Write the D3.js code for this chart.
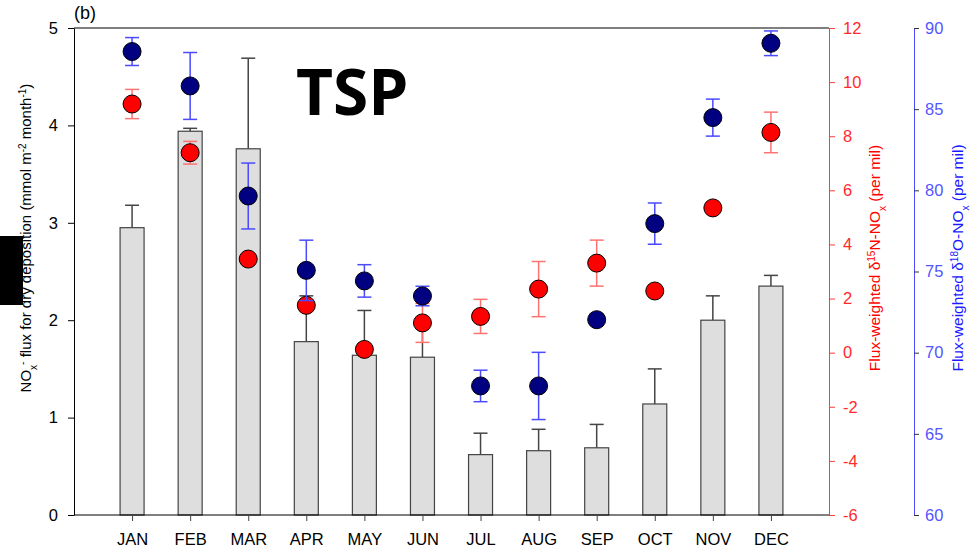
<!DOCTYPE html>
<html lang="en">
<head>
    <meta charset="UTF-8">
    <title>TSP dry deposition NOx</title>
    <script src="https://d3js.org/d3.v7.min.js"></script>
    <style>
        body { margin: 0; background: #fff; }
        svg { display: block; }
        .lbl { font-family: 'Liberation Sans', Arial, sans-serif; }
    </style>
</head>
<body>
    <svg width="978" height="547"></svg>

    <script>
        // months
        const months = ["JAN", "FEB", "MAR", "APR", "MAY", "JUN", "JUL", "AUG", "SEP", "OCT", "NOV", "DEC"];

        // NOx- flux for dry deposition (bars) and upper error
        const fluxValues = [2.95, 3.94, 3.76, 1.78, 1.64, 1.62, 0.62, 0.66, 0.69, 1.14, 2.00, 2.35];
        const fluxErr = [0.23, 0.03, 0.93, 0.47, 0.46, 0.38, 0.22, 0.22, 0.24, 0.36, 0.25, 0.11];

        // flux-weighted d15N (red)
        const d15NValues = [9.19, 7.39, 3.46, 1.75, 0.12, 1.10, 1.34, 2.35, 3.31, 2.28, 5.35, 8.14];
        const d15NErr = [0.54, 0.42, 0, 0.2, 0.15, 0.72, 0.63, 1.02, 0.85, 0, 0, 0.75];

        // flux-weighted d18O (navy)
        const d18OValues = [88.55, 86.43, 79.65, 75.07, 74.42, 73.49, 67.95, 67.95, 72.03, 77.95, 84.48, 89.06];
        const d18OErr = [0.86, 2.06, 2.03, 1.86, 1.0, 0.6, 0.97, 2.07, 0, 1.27, 1.14, 0.76];

        const leftTicks = [0, 1, 2, 3, 4, 5];
        const redTicks = [-6, -4, -2, 0, 2, 4, 6, 8, 10, 12];
        const blueTicks = [60, 65, 70, 75, 80, 85, 90];

        const svg = d3.select("svg");
        const plotL = 74, plotR = 829, plotT = 28, plotB = 515, blueX = 914;

        const x = d3.scalePoint().domain(months).range([plotL, plotR]).padding(1);
        const yFlux = d3.scaleLinear().domain([0, 5]).range([plotB, plotT]);
        const yN = d3.scaleLinear().domain([-6, 12]).range([plotB, plotT]);
        const yO = d3.scaleLinear().domain([60, 90]).range([plotB, plotT]);

        const barW = 24, cap = 14, r = 9;
        const plain = d => String(d);

        // bars
        const bars = months.map((m, i) => ({m: m, v: fluxValues[i], e: fluxErr[i]}));
        svg.append("g").selectAll("line").data(bars).enter().append("line")
            .attr("x1", d => x(d.m)).attr("x2", d => x(d.m))
            .attr("y1", d => yFlux(d.v)).attr("y2", d => yFlux(d.v + d.e))
            .attr("stroke", "#444").attr("stroke-width", 1.5);
        svg.append("g").selectAll("line").data(bars).enter().append("line")
            .attr("x1", d => x(d.m) - cap / 2).attr("x2", d => x(d.m) + cap / 2)
            .attr("y1", d => yFlux(d.v + d.e)).attr("y2", d => yFlux(d.v + d.e))
            .attr("stroke", "#444").attr("stroke-width", 1.5);
        svg.append("g").selectAll("rect").data(bars).enter().append("rect")
            .attr("x", d => x(d.m) - barW / 2)
            .attr("y", d => yFlux(d.v))
            .attr("width", barW)
            .attr("height", d => yFlux(0) - yFlux(d.v))
            .attr("fill", "#dedede")
            .attr("stroke", "#444")
            .attr("stroke-width", 1.2);

        function drawPoints(vals, errs, y, fill, errColor) {
            const pts = months.map((m, i) => ({m: m, v: vals[i], e: errs[i]}));
            const g = svg.append("g");
            const withErr = pts.filter(d => d.e > 0);
            g.selectAll(".eb").data(withErr).enter().append("line")
                .attr("x1", d => x(d.m)).attr("x2", d => x(d.m))
                .attr("y1", d => y(d.v - d.e)).attr("y2", d => y(d.v + d.e))
                .attr("stroke", errColor).attr("stroke-width", 1.5);
            [-1, 1].forEach(s => {
                g.selectAll(".cap" + s).data(withErr).enter().append("line")
                    .attr("x1", d => x(d.m) - cap / 2).attr("x2", d => x(d.m) + cap / 2)
                    .attr("y1", d => y(d.v + s * d.e)).attr("y2", d => y(d.v + s * d.e))
                    .attr("stroke", errColor).attr("stroke-width", 1.5);
            });
            g.selectAll("circle").data(pts).enter().append("circle")
                .attr("cx", d => x(d.m)).attr("cy", d => y(d.v)).attr("r", r)
                .attr("fill", fill).attr("stroke", "#000").attr("stroke-width", 1);
        }
        drawPoints(d15NValues, d15NErr, yN, "#ff0000", "#ff7272");
        drawPoints(d18OValues, d18OErr, yO, "#000080", "#4a4aff");

        // frame top
        svg.append("line").attr("x1", plotL).attr("x2", plotR).attr("y1", plotT).attr("y2", plotT)
            .attr("stroke", "#000").attr("stroke-width", 1.2);

        function tickFont(g) {
            g.selectAll(".tick text")
                .style("font-family", "'Liberation Sans', Arial, sans-serif")
                .style("font-size", "16.5px");
        }

        // left axis
        const gL = svg.append("g").attr("transform", "translate(" + plotL + ",0)")
            .call(d3.axisLeft(yFlux).tickValues(leftTicks).tickFormat(plain).tickSize(6).tickPadding(10).tickSizeOuter(0));
        gL.selectAll("path, line").attr("stroke", "#000");
        tickFont(gL);

        // bottom axis
        const gB = svg.append("g").attr("transform", "translate(0," + plotB + ")")
            .call(d3.axisBottom(x).tickSize(6).tickPadding(12).tickSizeOuter(0));
        gB.select(".domain").attr("d", "M" + plotL + ",0H" + plotR).attr("stroke", "#000").attr("stroke-width", 1.2);
        gB.selectAll(".tick line").attr("stroke", "#444");
        tickFont(gB);

        // red right axis
        const gR = svg.append("g").attr("transform", "translate(" + plotR + ",0)")
            .call(d3.axisRight(yN).tickValues(redTicks).tickFormat(plain).tickSize(6).tickPadding(8).tickSizeOuter(0));
        gR.selectAll("path, line").attr("stroke", "#ff3b3b");
        gR.selectAll("text").attr("fill", "#ff2a2a");
        tickFont(gR);

        // blue right axis
        const gO = svg.append("g").attr("transform", "translate(" + blueX + ",0)")
            .call(d3.axisRight(yO).tickValues(blueTicks).tickFormat(plain).tickSize(5).tickPadding(6).tickSizeOuter(0));
        gO.select(".domain").attr("stroke", "#4a4aff");
        gO.selectAll(".tick line").attr("stroke", "#333");
        gO.selectAll("text").attr("fill", "#5555ff");
        tickFont(gO);

        // left title
        const tL = svg.append("text").attr("class", "lbl")
            .attr("transform", "translate(31,238) rotate(-90)")
            .attr("text-anchor", "middle").attr("fill", "#000").style("font-size", "15px");
        tL.append("tspan").text("NO");
        tL.append("tspan").attr("baseline-shift", "sub").style("font-size", "10px").text("x");
        tL.append("tspan").attr("baseline-shift", "super").style("font-size", "10px").text("-");
        tL.append("tspan").text(" flux for dry deposition (mmol m");
        tL.append("tspan").attr("baseline-shift", "super").style("font-size", "10px").text("-2");
        tL.append("tspan").text(" month");
        tL.append("tspan").attr("baseline-shift", "super").style("font-size", "10px").text("-1");
        tL.append("tspan").text(")");

        function isoTitle(xPos, sup, el, color) {
            const t = svg.append("text").attr("class", "lbl")
                .attr("transform", "translate(" + xPos + ",258) rotate(-90)")
                .attr("text-anchor", "middle").attr("fill", color).style("font-size", "15.5px");
            t.append("tspan").text("Flux-weighted \u03b4");
            t.append("tspan").attr("baseline-shift", "super").style("font-size", "10px").text(sup);
            t.append("tspan").text(el + "-NO");
            t.append("tspan").attr("baseline-shift", "sub").style("font-size", "10px").text("x");
            t.append("tspan").text(" (per mil)");
        }
        isoTitle(880, "15", "N", "#ff0000");
        isoTitle(963, "18", "O", "#1a1aff");

        // panel label
        svg.append("text").attr("class", "lbl").attr("x", 74).attr("y", 19)
            .style("font-size", "18px").text("(b)");

        svg.append("text").attr("x", 296).attr("y", 115)
            .attr("font-family", "'Open Sans', sans-serif").attr("font-weight", "bold")
            .style("font-size", "64px").attr("fill", "#000").text("TSP");

        // black box at left edge
        svg.append("rect").attr("x", 0).attr("y", 236).attr("width", 23).attr("height", 69).attr("fill", "#000");
    </script>
</body>
</html>
